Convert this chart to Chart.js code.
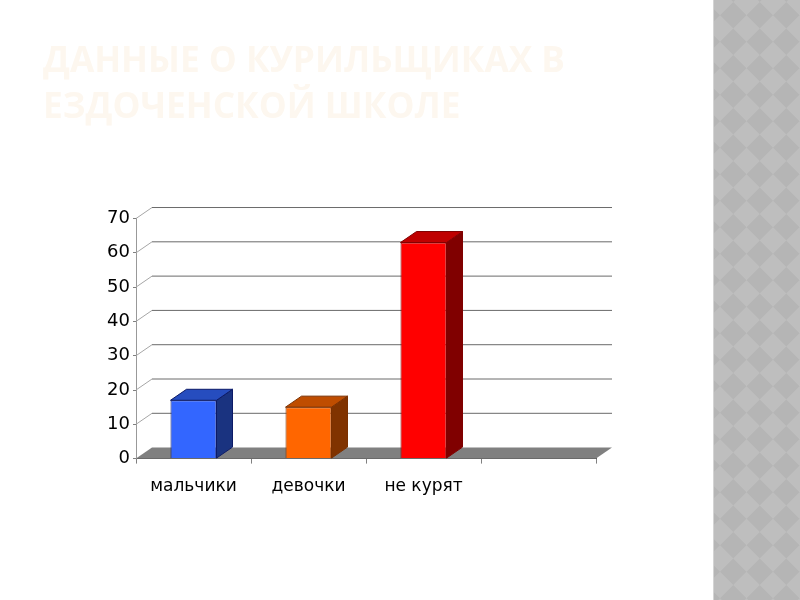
<!DOCTYPE html>
<html>
<head>
<meta charset="utf-8">
<script src="https://cdn.jsdelivr.net/npm/chart.js@4"></script>
<style>
  html, body { margin: 0; background: #fff; }
  #wrap { position: relative; width: 800px; height: 600px; overflow: hidden; }
  /* gray diamond strip on the right of the slide */
  #strip {
    position: absolute; left: 713px; top: 0; width: 87px; height: 600px;
    border-left: 1px solid #d4d4d4; box-sizing: border-box;
    background-color: #bebebe;
    background-image: url("data:image/svg+xml,%3Csvg xmlns='http://www.w3.org/2000/svg' width='53' height='53'%3E%3Cpath d='M13.25 0L26.5 13.25L13.25 26.5L0 13.25ZM39.75 0L53 13.25L39.75 26.5L26.5 13.25ZM13.25 26.5L26.5 39.75L13.25 53L0 39.75ZM39.75 26.5L53 39.75L39.75 53L26.5 39.75Z' fill='%23b5b5b5'/%3E%3C/svg%3E");
    background-position: 6px 2px;
  }
  canvas { position: absolute; left: 0; top: 0; }
</style>
</head>
<body>
<div id="wrap">
  <div id="strip"></div>
  <canvas id="chart" width="800" height="600"></canvas>
</div>
<script>
const titleLines = ['ДАННЫЕ О КУРИЛЬЩИКАХ В', 'ЕЗДОЧЕНСКОЙ ШКОЛЕ'];
const categories = ['мальчики', 'девочки', 'не курят', ''];
const smokers = [17, 15, 63, null];
const barColors = ['#3366ff', '#ff6600', '#ff0000', '#000000'];
const barBorders = ['#0c1a66', '#7a3000', '#800000', '#000000'];
const topColors = ['#264dbf', '#bf4d00', '#bf0000', '#000000'];
const sideColors = ['#1a3380', '#803300', '#800000', '#000000'];

// pseudo 3d: how far the back wall sits from the front of the plot
const depthX = 16;
const depthY = 11;

function poly(ctx, pts, fill, stroke) {
  ctx.beginPath();
  pts.forEach((p, i) => i ? ctx.lineTo(p[0], p[1]) : ctx.moveTo(p[0], p[1]));
  ctx.closePath();
  if (fill) { ctx.fillStyle = fill; ctx.fill(); }
  if (stroke) { ctx.strokeStyle = stroke; ctx.lineWidth = 1; ctx.stroke(); }
}

const box3d = {
  id: 'box3d',
  beforeDatasetsDraw(chart) {
    const { ctx, chartArea: a, scales: { y } } = chart;
    ctx.save();
    // floor
    const y0 = y.getPixelForValue(0);
    poly(ctx, [[a.left, y0], [a.left + depthX, y0 - depthY], [a.right + depthX, y0 - depthY], [a.right, y0]], '#808080');
    // back wall lines
    y.ticks.forEach(t => {
      if (t.value === 0) return;
      const py = y.getPixelForValue(t.value);
      ctx.strokeStyle = '#a6a6a6';
      ctx.lineWidth = 1;
      ctx.beginPath();
      ctx.moveTo(a.left, py);
      ctx.lineTo(a.left + depthX, py - depthY);
      ctx.stroke();
      ctx.strokeStyle = '#6a6a6a';
      ctx.beginPath();
      ctx.moveTo(a.left + depthX, py - depthY);
      ctx.lineTo(a.right + depthX, py - depthY);
      ctx.stroke();
    });
    // sides and tops of the bars
    chart.getDatasetMeta(0).data.forEach((bar, i) => {
      if (smokers[i] === null) return;
      const l = bar.x - bar.width / 2, r = bar.x + bar.width / 2;
      poly(ctx, [[r, bar.y], [r + depthX, bar.y - depthY], [r + depthX, bar.base - depthY], [r, bar.base]], sideColors[i], barBorders[i]);
      poly(ctx, [[l, bar.y], [l + depthX, bar.y - depthY], [r + depthX, bar.y - depthY], [r, bar.y]], topColors[i], barBorders[i]);
    });
    ctx.restore();
  }
};

new Chart(document.getElementById('chart'), {
  type: 'bar',
  data: {
    labels: categories,
    datasets: [{
      data: smokers,
      backgroundColor: barColors,
      borderColor: barBorders,
      borderWidth: 1,
      barPercentage: 0.4,
      categoryPercentage: 1
    }]
  },
  options: {
    responsive: false,
    animation: false,
    layout: { padding: { left: 43, right: 204, top: 0, bottom: 90 } },
    plugins: {
      legend: { display: false },
      tooltip: { enabled: false },
      title: {
        display: true,
        text: titleLines,
        align: 'start',
        color: '#fdf7ef',
        font: { family: '"Open Sans"', size: 35.2, weight: 'bold', lineHeight: 1.3 },
        padding: { top: 39, bottom: 88 }
      }
    },
    scales: {
      x: {
        grid: { drawOnChartArea: false, tickLength: 5, tickColor: '#808080' },
        border: { color: '#555555' },
        ticks: { color: '#000', font: { family: '"DejaVu Sans"', size: 17 }, padding: 13, maxRotation: 0 }
      },
      y: {
        min: 0,
        max: 70,
        afterFit(scale) { scale.width = 93; },
        grid: { drawOnChartArea: false, tickLength: 3, tickColor: '#808080' },
        border: { color: '#999999' },
        ticks: { stepSize: 10, color: '#000', font: { family: '"DejaVu Sans"', size: 18 }, padding: 3 }
      }
    }
  },
  plugins: [box3d]
});
</script>
</body>
</html>
